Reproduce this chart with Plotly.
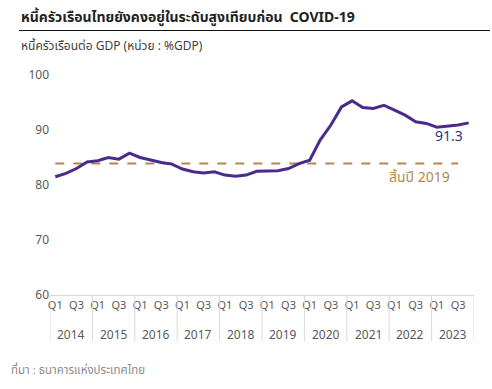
import plotly.graph_objects as go

years = [str(y) for y in range(2014, 2024)]
quarters = ["Q1", "Q2", "Q3", "Q4"]
debt_to_gdp = [
    81.5, 82.1, 83.0, 84.2,
    84.4, 85.0, 84.7, 85.8,
    85.0, 84.5, 84.1, 83.8,
    82.9, 82.4, 82.2, 82.4,
    81.8, 81.6, 81.8, 82.5,
    82.5, 82.6, 83.0, 83.9,
    84.5, 88.2, 90.9, 94.2,
    95.3, 94.1, 93.9, 94.5,
    93.6, 92.7, 91.5, 91.2,
    90.5, 90.7, 90.9, 91.3,
]
level_2019 = 83.9
ref_label = "สิ้นปี 2019"
yticks = [60, 70, 80, 90, 100]

labels = [f"{y} {q}" for y in years for q in quarters]
idx = list(range(len(labels)))
ref_idx = idx[:-1]

PURPLE = "#4a2a8c"
BROWN = "#b5874e"
FONT = "Noto Sans, Noto Sans Thai, Tahoma, sans-serif"

fig = go.Figure()
fig.add_trace(go.Scatter(
    x=ref_idx, y=[level_2019] * len(ref_idx), mode="lines",
    line=dict(color=BROWN, width=2, dash="dash"), hoverinfo="skip",
))
fig.add_trace(go.Scatter(
    x=idx, y=debt_to_gdp, mode="lines",
    line=dict(color=PURPLE, width=3), text=labels,
))

tickvals = [i for i, l in enumerate(labels) if l.endswith("Q1") or l.endswith("Q3")]
ticktext = [labels[i].split(" ")[1] for i in tickvals]

W, H = 492, 389
# plot area in pixels
PL, PR, PT, PB = 50, 474, 75, 295

def fx(xp):
    return xp / W

def fy(yp):
    return 1 - yp / H

shapes = []
for k in range(len(years) + 1):
    shapes.append(dict(type="line", xref="x", yref="paper",
                       x0=4 * k - 0.5, x1=4 * k - 0.5, y0=fy(PB), y1=fy(341),
                       line=dict(color="#d9d9d9", width=1)))
shapes.append(dict(type="line", xref="paper", yref="paper",
                   x0=fx(19), x1=fx(490), y0=fy(30.5), y1=fy(30.5), layer="above",
                   line=dict(color="#111111", width=1)))

annotations = []
for k, y in enumerate(years):
    annotations.append(dict(x=4 * k + 1.5, y=fy(334), xref="x", yref="paper",
                            text=y, showarrow=False, yanchor="middle",
                            font=dict(size=12, color="#595959", family=FONT)))
annotations.append(dict(x=idx[-1], y=debt_to_gdp[-1], xref="x", yref="y",
                        text=f"{debt_to_gdp[-1]:.1f}", showarrow=False,
                        xshift=-20, yshift=-13,
                        font=dict(size=14, color="#33308c", family=FONT)))
annotations.append(dict(x=34.4, y=level_2019, xref="x", yref="y",
                        text=ref_label, showarrow=False, yshift=-13,
                        font=dict(size=14, color=BROWN, family=FONT)))
annotations.append(dict(x=fx(19), y=fy(17), xref="paper", yref="paper",
                        xanchor="left", yanchor="middle",
                        text="<b>หนี้ครัวเรือนไทยยังคงอยู่ในระดับสูงเทียบก่อน  COVID-19</b>",
                        showarrow=False, font=dict(size=14, color="#222222", family=FONT)))
annotations.append(dict(x=fx(19), y=fy(45), xref="paper", yref="paper",
                        xanchor="left", yanchor="middle",
                        text="หนี้ครัวเรือนต่อ GDP (หน่วย : %GDP)",
                        showarrow=False, font=dict(size=12, color="#404040", family=FONT)))
annotations.append(dict(x=fx(9), y=fy(369), xref="paper", yref="paper",
                        xanchor="left", yanchor="middle",
                        text="ที่มา : ธนาคารแห่งประเทศไทย",
                        showarrow=False, font=dict(size=11.5, color="#8c8c8c", family=FONT)))

fig.update_layout(
    width=W, height=H, showlegend=False,
    margin=dict(l=0, r=0, t=0, b=0, pad=0),
    paper_bgcolor="white", plot_bgcolor="white",
    font=dict(family=FONT, color="#595959"),
    xaxis=dict(domain=[fx(PL), fx(PR)], range=[-0.5, 39.5],
               tickvals=tickvals, ticktext=ticktext, automargin=False,
               showgrid=False, zeroline=False, showline=True,
               linecolor="#d9d9d9", linewidth=1, ticks="",
               tickfont=dict(size=11, color="#595959")),
    yaxis=dict(domain=[fy(PB), fy(PT)], range=[60, 100], tickvals=yticks,
               automargin=False, showgrid=False,
               zeroline=False, showline=False, ticks="",
               tickfont=dict(size=12, color="#595959")),
    shapes=shapes, annotations=annotations,
)
fig.write_html("out.html", config={"displayModeBar": False},
               post_script="document.body.style.margin='0';document.body.style.overflow='hidden';")
